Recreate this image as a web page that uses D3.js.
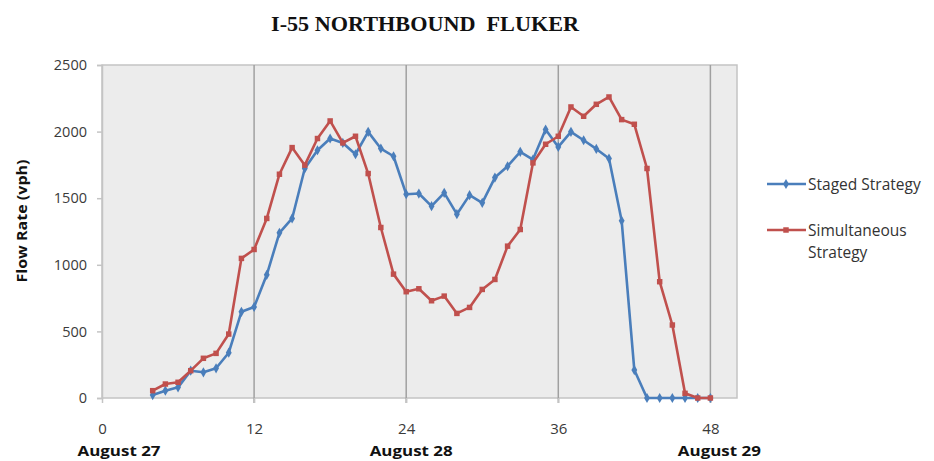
<!DOCTYPE html>
<html><head><meta charset="utf-8">
<script src="https://cdn.jsdelivr.net/npm/d3@7"></script>
<style>body{margin:0;background:#fff;} svg{display:block;}</style>
</head><body>
<svg id="c" width="934" height="461"></svg>
<script>
const title = "I-55 NORTHBOUND  FLUKER";
const hours = [4,5,6,7,8,9,10,11,12,13,14,15,16,17,18,19,20,21,22,23,24,25,26,27,28,29,30,31,32,33,34,35,36,37,38,39,40,41,42,43,44,45,46,47,48];
const staged = [22,55,80,205,193,223,340,647,683,925,1240,1348,1723,1860,1948,1915,1830,1998,1873,1815,1530,1535,1440,1540,1380,1523,1465,1655,1740,1848,1790,2015,1885,1998,1935,1870,1798,1330,210,0,0,0,0,0,0];
const simultaneous = [55,105,118,205,298,335,480,1048,1115,1348,1680,1880,1748,1948,2080,1915,1965,1685,1280,930,798,820,730,765,635,680,815,890,1140,1265,1765,1905,1965,2185,2115,2205,2260,2090,2055,1723,873,548,35,0,0];
const xTicks = [0,12,24,36,48];
const yTicks = [0,500,1000,1500,2000,2500];
const dayLabels = ["August 27","August 28","August 29"];
const dayHours = [0,24,48];
const seriesNames = ["Staged Strategy", "Simultaneous Strategy"];

const svg = d3.select("#c");
const L=102, R=737, T=65, B=398;
const x = d3.scaleLinear().domain([0,50.1]).range([L,R]);
const y = d3.scaleLinear().domain([0,2500]).range([B,T]);

svg.append("rect").attr("x",L).attr("y",T).attr("width",R-L).attr("height",B-T)
  .attr("fill","#ececec").attr("stroke","#c4c4c4").attr("stroke-width",1.5);

// vertical gridlines
svg.append("g").selectAll("line").data(xTicks.filter(d=>d>0)).join("line")
  .attr("x1",d=>x(d)).attr("x2",d=>x(d)).attr("y1",T).attr("y2",B+5)
  .attr("stroke","#a0a0a0").attr("stroke-width",1.5);

// y axis
const ya = svg.append("g").attr("transform",`translate(${L},0)`)
  .call(d3.axisLeft(y).tickValues(yTicks).tickSize(5).tickPadding(10).tickFormat(d3.format("d")));
ya.select(".domain").attr("stroke","#c4c4c4").attr("stroke-width",1.5);
ya.selectAll(".tick line").attr("stroke","#c4c4c4").attr("stroke-width",1.5);
ya.selectAll("text").attr("font-family","Open Sans, sans-serif").attr("font-size",14.5).attr("fill","#3a3a3a");

// x axis
const xa = svg.append("g").attr("transform",`translate(0,${B})`)
  .call(d3.axisBottom(x).tickValues(xTicks).tickSize(5).tickPadding(0));
xa.select(".domain").remove();
xa.selectAll(".tick line").attr("stroke","#c4c4c4").attr("stroke-width",1.5);
xa.selectAll("text").attr("dy",null).attr("y",36).attr("font-family","Open Sans, sans-serif").attr("font-size",15).attr("fill","#3a3a3a");

const dayDx = [17, 5, 9];
svg.append("g").selectAll("text").data(dayLabels).join("text")
  .attr("x",(d,i)=>x(dayHours[i])+dayDx[i]).attr("y",456).attr("text-anchor","middle")
  .attr("font-family","Open Sans, sans-serif").attr("font-weight","bold").attr("font-size",15).attr("fill","#111")
  .attr("textLength",83).attr("lengthAdjust","spacingAndGlyphs")
  .text(d=>d);

svg.append("text").attr("x",425).attr("y",31).attr("text-anchor","middle")
  .attr("font-family","Liberation Serif, serif").attr("font-weight","bold").attr("font-size",20)
  .attr("textLength",308).attr("lengthAdjust","spacingAndGlyphs")
  .attr("fill","#111").attr("xml:space","preserve").style("white-space","pre").text(title);

svg.append("text").attr("transform",`translate(27,221) rotate(-90)`).attr("text-anchor","middle")
  .attr("font-family","Open Sans, sans-serif").attr("font-weight","bold").attr("font-size",14).attr("fill","#111")
  .attr("textLength",123).attr("lengthAdjust","spacingAndGlyphs")
  .text("Flow Rate (vph)");

const colors = ["#4a7ebb","#c0504d"];
const datasets = [staged, simultaneous];
const line = d3.line().x(d=>x(d[0])).y(d=>y(d[1]));
datasets.forEach((vals,i)=>{
  const pts = hours.map((h,j)=>[h,vals[j]]);
  svg.append("path").datum(pts).attr("d",line).attr("fill","none")
    .attr("stroke",colors[i]).attr("stroke-width",2.6).attr("stroke-linejoin","round");
  const sym = i===0 ? d3.symbol().type(d3.symbolDiamond).size(30) : d3.symbol().type(d3.symbolSquare).size(30);
  svg.append("g").selectAll("path").data(pts).join("path")
    .attr("transform",d=>`translate(${x(d[0])},${y(d[1])})`).attr("d",sym).attr("fill",colors[i]);
});

// legend
const lg = [{y:184, lines:["Staged Strategy"]},{y:230, lines:["Simultaneous","Strategy"]}];
lg.forEach((l,i)=>{
  svg.append("line").attr("x1",767).attr("x2",806).attr("y1",l.y).attr("y2",l.y).attr("stroke",colors[i]).attr("stroke-width",2.6);
  const sym = i===0 ? d3.symbol().type(d3.symbolDiamond).size(30) : d3.symbol().type(d3.symbolSquare).size(30);
  svg.append("path").attr("transform",`translate(786,${l.y})`).attr("d",sym).attr("fill",colors[i]);
  l.lines.forEach((t,k)=>{
    svg.append("text").attr("x",808).attr("y",l.y+6+k*22).attr("font-family","Open Sans, sans-serif")
      .attr("font-size",15.5).attr("fill","#333").text(t);
  });
});
</script>
</body></html>
